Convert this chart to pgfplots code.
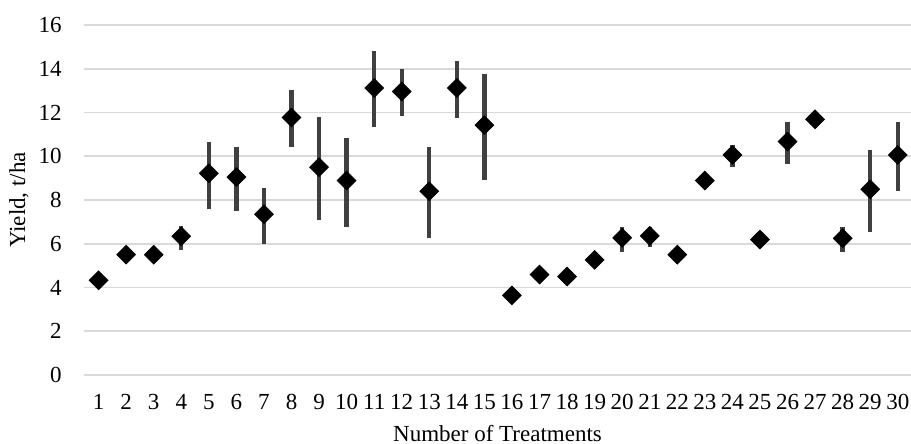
\documentclass[border=0pt]{standalone}
\usepackage{pgfplots}
\pgfplotsset{compat=1.18}
\usepackage{pgfplotstable}
\usepackage{fontspec}
\setmainfont{Liberation Serif}
\definecolor{gridc}{HTML}{D9D9D9}
\definecolor{barc}{HTML}{404040}
\pgfplotstableread{
x y ep em
1 4.33 0 0
2 5.50 0 0
3 5.50 0 0
4 6.34 0.49 0.64
5 9.22 1.44 1.61
6 9.05 1.39 1.55
7 7.35 1.20 1.34
8 11.77 1.28 1.33
9 9.50 2.28 2.40
10 8.89 1.93 2.11
11 13.12 1.68 1.78
12 12.96 1.02 1.10
13 8.40 2.00 2.13
14 13.12 1.25 1.38
15 11.42 2.35 2.49
16 3.64 0 0
17 4.59 0.10 0.15
18 4.50 0 0.10
19 5.26 0.15 0.30
20 6.27 0.48 0.66
21 6.36 0.39 0.51
22 5.50 0.10 0.35
23 8.89 0 0
24 10.06 0.46 0.56
25 6.19 0.15 0.30
26 10.67 0.90 1.04
27 11.69 0 0
28 6.25 0.50 0.64
29 8.49 1.81 1.97
30 10.06 1.51 1.66
}\datatable
\begin{document}
\begin{tikzpicture}
\useasboundingbox (-42pt,-34.5pt) rectangle (413.5pt,187.5pt);
\begin{axis}[
  at={(0,0)}, anchor=south west,
  scale only axis,
  width=413.5pt, height=175pt,
  xmin=0.47, xmax=30.48,
  ymin=0, ymax=16,
  xtick={1,...,30},
  ytick={0,2,...,16},
  axis line style={draw=none},
  tick style={draw=none},
  ymajorgrids,
  grid style={gridc, line width=0.8pt},
  /pgf/number format/assume math mode=true,
  ticklabel style={font=\fontsize{11.5}{13}\selectfont},
  xticklabel style={anchor=base, yshift=-17.5pt, inner sep=0pt},
  yticklabel style={anchor=east, inner sep=0pt, xshift=-11pt},
  xlabel={Number of Treatments},
  ylabel={Yield, t/ha},
  xlabel style={font=\fontsize{11.5}{13}\selectfont, at={(rel axis cs:0.5,0)}, anchor=base, yshift=-33.5pt, inner sep=0pt},
  ylabel style={font=\fontsize{11.5}{13}\selectfont, at={([xshift=-32.5pt]rel axis cs:0,0.5)}, anchor=center, inner sep=0pt},
  clip=false,
]
\addplot[only marks, mark=none,
  error bars/.cd, y dir=both, y explicit,
  error mark=none,
  error bar style={draw=barc, line width=2.2pt}]
  table[x=x, y=y, y error plus=ep, y error minus=em] {\datatable};
\addplot[only marks, mark=square*, mark size=3.3pt,
  mark options={rotate=45, fill=black, draw=black}]
  table[x=x, y=y] {\datatable};
\end{axis}
\end{tikzpicture}
\end{document}
